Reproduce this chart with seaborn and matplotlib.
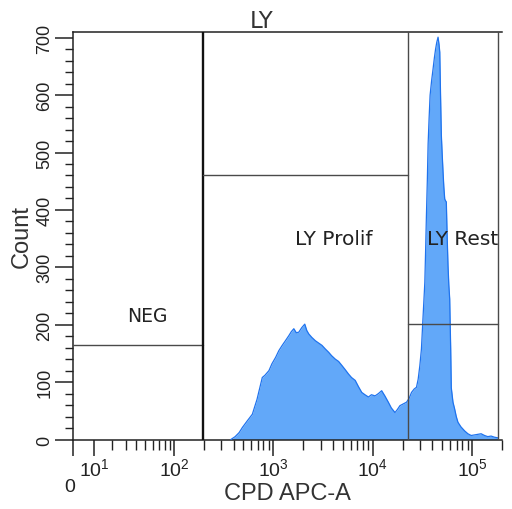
import numpy as np
import matplotlib
matplotlib.use("Agg")
import matplotlib.pyplot as plt
from matplotlib import font_manager
import matplotlib.ticker as mticker
import seaborn as sns

# ---------------- data ----------------
cpd_values = [376, 415, 455, 491, 547, 618, 689, 778, 828, 908, 973, 1059, 1143, 1234,
              1328, 1440, 1525, 1615, 1711, 1812, 1942, 2081, 2179, 2281, 2445, 2662,
              2872, 3099, 3336, 3615, 3875, 4219, 4552, 4912, 5288, 5731, 6141, 6687,
              7215, 7784, 8380, 9083, 9732, 10594, 11437, 12338, 13279, 14396, 15425,
              16797, 17709, 18845, 20335, 21942, 23344, 24618, 26195, 27616, 28724,
              29870, 30988, 31860, 32752, 33516, 34133, 34770, 35496, 36162, 37005,
              37867, 39200, 40572, 41807, 42973, 44178, 45521, 46579, 47344, 48216,
              49118, 50147, 51078, 52028, 53116, 54106, 55105, 56262, 57310, 58379,
              59594, 60290, 60985, 61838, 64298, 66865, 69374, 72148, 77312, 84182,
              90826, 98000, 105977, 114346, 123372, 133417, 143952, 155320, 167972,
              181231]
counts = [0, 5, 12, 21, 32, 44, 70, 108, 112, 120, 132, 143, 155, 164,
          172, 181, 188, 193, 186, 187, 195, 201, 190, 184, 178, 172,
          168, 164, 158, 152, 146, 140, 136, 129, 122, 114, 108, 103,
          92, 82, 78, 74, 78, 76, 80, 85, 76, 65, 55,
          47, 52, 59, 62, 65, 72, 82, 88, 91, 105,
          129, 158, 200, 240, 274, 330, 390, 450, 515, 560,
          600, 625, 646, 665, 680, 692, 701, 688, 675, 600,
          530, 495, 466, 440, 419, 416, 414, 350, 303, 270,
          245, 200, 158, 90, 65, 53, 40, 30, 22, 15,
          10, 7, 8, 9, 10, 7, 5, 6, 4,
          3]

gate_names = ["NEG", "LY Prolif", "LY Rest"]
gate_lo = [0, 195, 22800]
gate_hi = [195, 22800, 181000]
gate_height = [165, 461, 201]

x_tick_values = [10, 100, 1000, 10000, 100000]
x_tick_labels = ["$10^{1}$", "$10^{2}$", "$10^{3}$", "$10^{4}$", "$10^{5}$"]
y_tick_values = [0, 100, 200, 300, 400, 500, 600, 700]

title = "LY"
xlabel = "CPD APC-A"
ylabel = "Count"

# ---------------- fonts ----------------
def pick(fams):
    for f in fams:
        try:
            font_manager.findfont(f, fallback_to_default=False)
            return f
        except Exception:
            continue
    return "DejaVu Sans"

narrow = pick(["Liberation Sans Narrow", "Liberation Sans"])
arial = pick(["Liberation Sans", "DejaVu Sans"])

sns.set_style("ticks")
plt.rcParams["font.family"] = [arial, "DejaVu Sans"]
plt.rcParams["mathtext.fontset"] = "custom"
plt.rcParams["mathtext.rm"] = narrow
plt.rcParams["mathtext.it"] = narrow
plt.rcParams["mathtext.default"] = "regular"

fig = plt.figure(figsize=(5.12, 5.10), dpi=100)
ax = fig.add_axes([73.3 / 512, 69.5 / 510, 428.7 / 512, 407.5 / 510])

fill_color = "#62a8f9"
edge_color = "#1f73ee"

sns.lineplot(x=cpd_values, y=counts, color=edge_color, linewidth=0.9, ax=ax,
             zorder=3)
ax.fill_between(cpd_values, counts, 0, color=fill_color, linewidth=0, zorder=2)

# biexponential-like display scale
C = 9.8
def fwd(x):
    return np.arcsinh(np.asarray(x, dtype=float) / (2 * C)) / np.log(10)
def inv(u):
    return 2 * C * np.sinh(np.asarray(u, dtype=float) * np.log(10))

ax.set_xscale("function", functions=(fwd, inv))
ax.set_xlim(0, 2.0e5)
ax.set_ylim(0, 710)

# gates
gcol = "#4a4a4a"
for i, (lo, hi, h) in enumerate(zip(gate_lo, gate_hi, gate_height)):
    ax.plot([lo, hi], [h, h], color=gcol, linewidth=1.0, zorder=4)
    ax.axvline(hi, color=("#111111" if i == 0 else gcol),
               linewidth=(1.7 if i == 0 else 1.0), zorder=4)

ax.text(53, 216, gate_names[0], ha="center", va="center", fontsize=13.5,
        family="DejaVu Sans", color="#222222", zorder=5)
ax.text(4057, 350, gate_names[1], ha="center", va="center", fontsize=14.5,
        family="DejaVu Sans", color="#222222", zorder=5)
ax.text(35500, 350, gate_names[2], ha="left", va="center", fontsize=14.5,
        family="DejaVu Sans", color="#222222", zorder=5, clip_on=True)

# ticks
ax.xaxis.set_major_locator(mticker.FixedLocator([0] + x_tick_values))
ax.xaxis.set_major_formatter(mticker.FixedFormatter([""] + x_tick_labels))
minor_x = [m * 10 ** d for d in range(1, 5) for m in range(2, 10)] + [2e5]
ax.xaxis.set_minor_locator(mticker.FixedLocator(minor_x))
ax.yaxis.set_major_locator(mticker.FixedLocator(y_tick_values))
ax.yaxis.set_minor_locator(mticker.MultipleLocator(20))

ax.tick_params(axis="x", which="major", length=11.5, width=1.1, color="#222222",
               labelsize=14, pad=1, labelcolor="#222222")
ax.tick_params(axis="x", which="minor", length=7, width=1.0, color="#222222")
ax.tick_params(axis="y", which="major", length=13, width=1.1, color="#222222",
               labelsize=13, pad=1.5, labelrotation=90, labelcolor="#222222")
ax.tick_params(axis="y", which="minor", length=5.8, width=1.0, color="#222222")
for t in ax.get_yticklabels():
    t.set_family(narrow)
    t.set_va("center")

ax.text(-0.008, -0.115, "0", transform=ax.transAxes, ha="center",
        va="center", fontsize=14, family=narrow, color="#222222")

for s in ["left", "bottom", "top"]:
    ax.spines[s].set_color("#222222")
    ax.spines[s].set_linewidth(1.1)
ax.spines["right"].set_visible(False)

ax.set_xlabel(xlabel, fontsize=17, color="#333333")
ax.xaxis.set_label_coords(0.5, -0.104)
ax.set_ylabel(ylabel, fontsize=17, color="#333333")
ax.yaxis.set_label_coords(-0.094, 0.5)
ax.set_title(title, fontsize=16.5, color="#333333", x=0.44, pad=3,
             family="DejaVu Sans")

fig.savefig("out.png", dpi=100)
